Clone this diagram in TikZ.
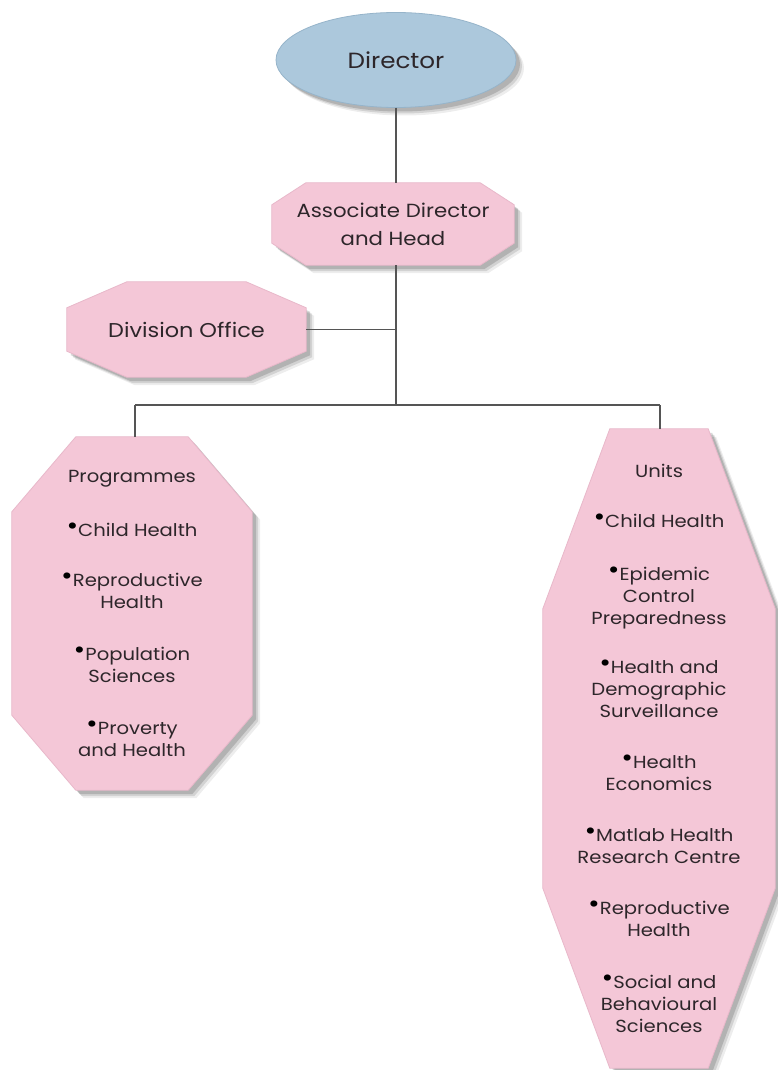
\documentclass[tikz,border=0pt]{standalone}
\usepackage{fontspec}
\setmainfont[FakeStretch=1.12]{Poppins}
\usetikzlibrary{calc,shapes.geometric}
\pgfdeclarelayer{back}
\pgfdeclarelayer{bg}
\pgfsetlayers{back,bg,main}
\definecolor{pinkfill}{RGB}{244,199,215}
\definecolor{pinkedge}{RGB}{232,184,202}
\definecolor{bluefill}{RGB}{172,200,220}
\definecolor{blueedge}{RGB}{150,180,202}
\definecolor{txtcol}{RGB}{45,38,42}
\definecolor{conncol}{RGB}{85,85,85}
\newcommand\bul{\raisebox{0.1em}{\textcolor{black}{\scalebox{1.45}{\textbullet}}}}
% #1 node, #2 chamfer x, #3 chamfer y, #4 offset
\newcommand\octpath[4]{($(#1.north west)+(#2+#4,#4)$) -- ($(#1.north east)+(-#2+#4,#4)$) -- ($(#1.north east)+(#4,#3+#4)$) -- ($(#1.south east)+(#4,-#3+#4)$) -- ($(#1.south east)+(-#2+#4,#4)$) -- ($(#1.south west)+(#2+#4,#4)$) -- ($(#1.south west)+(#4,-#3+#4)$) -- ($(#1.north west)+(#4,#3+#4)$) -- cycle}
\newcommand\octshape[3]{%
  \begin{pgfonlayer}{bg}
    \fill[black,opacity=0.07] \octpath{#1}{#2}{#3}{8};
    \fill[black,opacity=0.11] \octpath{#1}{#2}{#3}{6};
    \fill[black,opacity=0.15] \octpath{#1}{#2}{#3}{4};
    \fill[pinkfill,draw=pinkedge,line width=0.8pt] \octpath{#1}{#2}{#3}{0};
  \end{pgfonlayer}}
\begin{document}
\begin{tikzpicture}[x=1pt,y=-1pt,
  box/.style={draw=none,inner sep=0pt,align=center,text=txtcol},
  conn/.style={draw=conncol,line width=1.1pt}]
\begin{pgfonlayer}{back}
\fill[white] (0,0) rectangle (778,1070);
\end{pgfonlayer}
\useasboundingbox (0,0) rectangle (778,1070);

% Director
\node[box,ellipse,minimum width=240pt,minimum height=95pt,
  font=\fontsize{22}{26}\selectfont] (dir) at (396,60) {Director};
\begin{pgfonlayer}{bg}
  \fill[black,opacity=0.07] ($(dir.center)+(8,8)$) ellipse [x radius=120pt, y radius=47.5pt];
  \fill[black,opacity=0.11] ($(dir.center)+(6,6)$) ellipse [x radius=120pt, y radius=47.5pt];
  \fill[black,opacity=0.15] ($(dir.center)+(4,4)$) ellipse [x radius=120pt, y radius=47.5pt];
  \fill[bluefill,draw=blueedge,line width=0.8pt] (dir.center) ellipse [x radius=120pt, y radius=47.5pt];
\end{pgfonlayer}

% Associate Director and Head
\node[box,minimum width=242pt,minimum height=82pt,
  font=\fontsize{19}{28}\selectfont] (assoc) at (393,224) {Associate Director\\and Head};
\octshape{assoc}{34}{22}

% Division Office
\node[box,minimum width=239pt,minimum height=95pt,
  font=\fontsize{20}{26}\selectfont] (div) at (186.5,329.5) {Division Office};
\octshape{div}{60}{26}

% Programmes
\node[box,minimum width=240pt,minimum height=353pt,
  font=\fontsize{17.5}{22}\selectfont] (prog) at (132,613.5)
  {Programmes\\[32pt]
   \bul Child Health\\[28pt]
   \bul Reproductive\\Health\\[30pt]
   \bul Population\\Sciences\\[30pt]
   \bul Proverty\\and Health};
\octshape{prog}{64}{75}

% Units
\node[box,minimum width=232pt,minimum height=639pt,
  font=\fontsize{17.5}{22}\selectfont] (units) at (659,748.5)
  {Units\\[28pt]
   \bul Child Health\\[31pt]
   \bul Epidemic\\Control\\Preparedness\\[27pt]
   \bul Health and\\Demographic\\Surveillance\\[29pt]
   \bul Health\\Economics\\[29pt]
   \bul Matlab Health\\Research Centre\\[29pt]
   \bul Reproductive\\Health\\[30pt]
   \bul Social and\\Behavioural\\Sciences};
\octshape{units}{67}{180}

% connectors
\coordinate (jn) at (396,405);
\coordinate (jl) at (135,405);
\coordinate (jr) at (660,405);
\draw[conn] (dir.south) -- (dir.south |- assoc.north);
\draw[conn] (jn |- assoc.south) -- (jn);
\draw[conn] (div.east) -- (div.east -| jn);
\draw[conn] (jl) -- (jr);
\draw[conn] (jl) -- (jl |- prog.north);
\draw[conn] (jr) -- (jr |- units.north);
\end{tikzpicture}
\end{document}
